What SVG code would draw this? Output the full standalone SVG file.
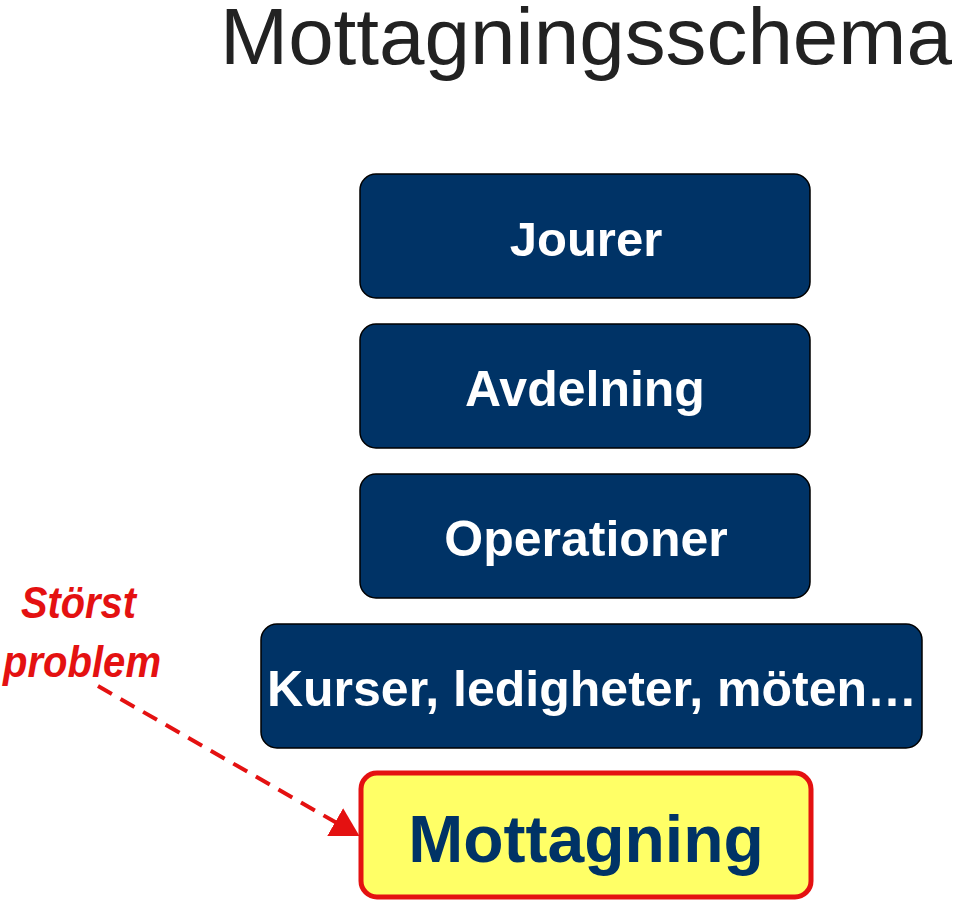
<svg xmlns="http://www.w3.org/2000/svg" width="960" height="908" viewBox="0 0 960 908">
<defs>
<style>
.box{fill:#003366;stroke:#000;stroke-width:1.5}
.lbl{font-family:"Liberation Sans",Arial,sans-serif;font-weight:bold;fill:#fff;text-anchor:middle}
</style>
<marker id="ah" markerWidth="8" markerHeight="8" refX="6" refY="4" orient="auto" markerUnits="strokeWidth">
<path d="M0,0 L7,4 L0,8 z" fill="#e41111"/>
</marker>
</defs>
<rect width="960" height="908" fill="#fff"/>
<text x="220" y="64" font-family="Liberation Sans,Arial,sans-serif" font-size="79" fill="#222" textLength="732" lengthAdjust="spacingAndGlyphs">Mottagningsschema</text>
<g id="jourer"><rect class="box" x="360" y="174" width="450" height="124" rx="16"/><text class="lbl" x="586" y="256" font-size="49">Jourer</text></g>
<g id="avdelning"><rect class="box" x="360" y="324" width="450" height="124" rx="16"/><text class="lbl" x="585" y="406" font-size="50">Avdelning</text></g>
<g id="operationer"><rect class="box" x="360" y="474" width="450" height="124" rx="16"/><text class="lbl" x="586" y="556" font-size="50">Operationer</text></g>
<g id="kurser"><rect class="box" x="261" y="624" width="661" height="124" rx="16"/><text class="lbl" x="592" y="706" font-size="50">Kurser, ledigheter, möten…</text></g>
<g id="mottagning"><rect x="361" y="773" width="450" height="124" rx="16" fill="#ffff66" stroke="#e41111" stroke-width="5"/><text x="586" y="862" font-family="Liberation Sans,Arial,sans-serif" font-weight="bold" font-size="66" fill="#003366" text-anchor="middle">Mottagning</text></g>
<g id="storst" font-family="Liberation Sans,Arial,sans-serif" font-weight="bold" font-style="italic" font-size="44" fill="#e41111" lengthAdjust="spacingAndGlyphs"><text x="21" y="618" textLength="115" lengthAdjust="spacingAndGlyphs">Störst</text><text x="3" y="677" textLength="158" lengthAdjust="spacingAndGlyphs">problem</text></g>
<g id="connectors"><line x1="98" y1="686" x2="356" y2="834" stroke="#e41111" stroke-width="4" stroke-dasharray="16,10" marker-end="url(#ah)"/></g>
</svg>
